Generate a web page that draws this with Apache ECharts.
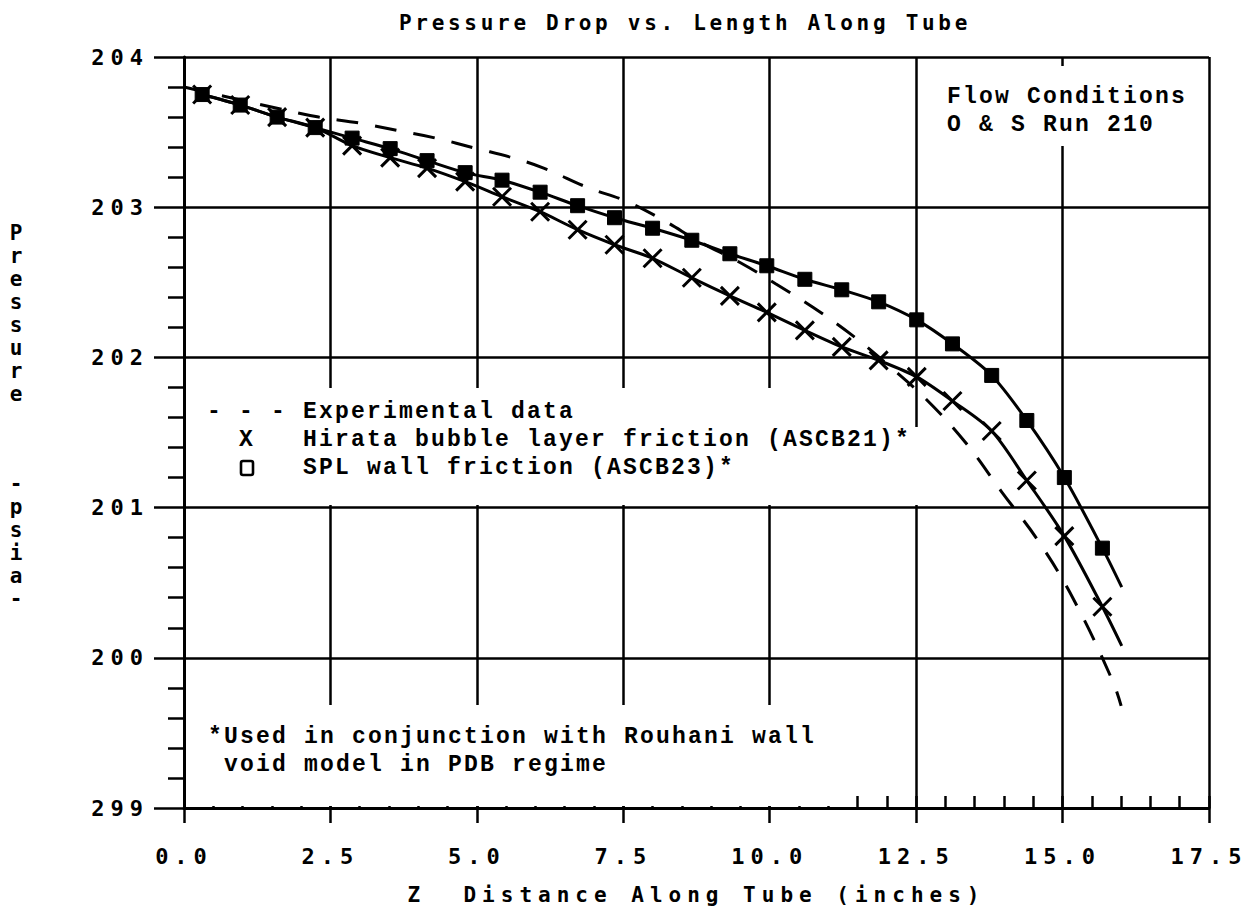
<!DOCTYPE html>
<html><head><meta charset="utf-8">
<script src="https://cdn.jsdelivr.net/npm/echarts@6/dist/echarts.min.js"></script>
<style>html,body{margin:0;padding:0;background:#fff}#c{width:1250px;height:917px}</style>
</head><body><div id="c"></div>
<script>
// ---- data ----
const xTickLabels = ['0.0','2.5','5.0','7.5','10.0','12.5','15.0','17.5'];
const yTickLabels = ['299','200','201','202','203','204'];
const modelZ = [0.31,0.96,1.59,2.24,2.87,3.52,4.15,4.80,5.43,6.08,6.72,7.35,8.00,8.67,9.32,9.95,10.60,11.23,11.86,12.51,13.12,13.79,14.39,15.03,15.68,16.01];
const splPressure = [203.75,203.68,203.60,203.53,203.46,203.39,203.31,203.23,203.18,203.10,203.01,202.93,202.86,202.78,202.69,202.61,202.52,202.45,202.37,202.25,202.09,201.88,201.58,201.20,200.73,200.47];
const hirataPressure = [203.75,203.68,203.60,203.53,203.41,203.33,203.26,203.17,203.07,202.97,202.85,202.75,202.66,202.53,202.41,202.30,202.18,202.07,201.98,201.87,201.71,201.51,201.18,200.81,200.34,200.08];
const expZ = [0,1.69,2.3,3.0,3.65,4.3,5.0,5.6,6.14,6.9,7.55,8.2,8.8,9.5,10.1,10.75,11.4,12.05,12.7,13.35,13.95,14.6,15.2,15.85,16.0];
const expPressure = [203.80,203.65,203.60,203.56,203.51,203.46,203.39,203.33,203.26,203.13,203.04,202.91,202.77,202.63,202.49,202.33,202.15,201.94,201.71,201.43,201.11,200.77,200.38,199.85,199.68];

const TITLE = 'Pressure Drop vs. Length Along Tube';
const XNAME = 'Z  Distance Along Tube (inches)';
const YNAME_TOP = ['P','r','e','s','s','u','r','e'];
const YNAME_BOT = ['-','p','s','i','a','-'];
const legendLines = ['- - - Experimental data','  X   Hirata bubble layer friction (ASCB21)*','      SPL wall friction (ASCB23)*'];
const noteLines = ['*Used in conjunction with Rouhani wall',' void model in PDB regime'];
const flowLines = ['Flow Conditions','O & S Run 210'];

// ---- build ----
function pairs(xs, ys, endNoSymbol){
  return xs.map((x,i)=> (endNoSymbol && i===xs.length-1) ? {value:[x,ys[i]], symbol:'none'} : [x, ys[i]]);
}
const MONO = "'Liberation Mono', 'DejaVu Sans Mono', monospace";
const SMONO = "'DejaVu Sans Mono', monospace";
const chart = echarts.init(document.getElementById('c'), null, {renderer:'svg'});
const black = '#000';
const graphics = [];
// masks hiding grid lines behind text blocks (below series)
[[186,388,714,117],[900,427,25,78],[186,705,644,101],[940,66,266,80]].forEach(r=>{
  graphics.push({type:'rect', z:1, silent:true, shape:{x:r[0],y:r[1],width:r[2],height:r[3]}, style:{fill:'#fff'}});
});
legendLines.forEach((t,i)=>graphics.push({type:'text', z:5, style:{text:t, x:207, y:412+i*28, font:'bold 23px '+MONO, fill:black, verticalAlign:'middle'}}));
// legend box symbol
graphics.push({type:'rect', z:5, shape:{x:241, y:461, width:12, height:14, r:2}, style:{fill:'none', stroke:black, lineWidth:2.6}});
noteLines.forEach((t,i)=>graphics.push({type:'text', z:5, style:{text:t, x:208, y:737+i*28, font:'bold 23px '+MONO, fill:black, verticalAlign:'middle'}}));
flowLines.forEach((t,i)=>graphics.push({type:'text', z:5, style:{text:t, x:947, y:97+i*28, font:'bold 23px '+MONO, fill:black, verticalAlign:'middle'}}));
graphics.push({type:'text', z:5, style:{text:YNAME_TOP.join('\n'), x:16, y:221, font:'bold 21px '+SMONO, lineHeight:23, fill:black, align:'center', verticalAlign:'top'}});
graphics.push({type:'text', z:5, style:{text:YNAME_BOT.join('\n'), x:16, y:472, font:'bold 21px '+SMONO, lineHeight:23, fill:black, align:'center', verticalAlign:'top'}});

const option = {
  animation:false,
  backgroundColor:'#fff',
  title:{text:TITLE, left:680, top:7, textAlign:'center', textStyle:{fontFamily:SMONO, fontWeight:'bold', fontSize:21, color:black}},
  grid:{left:184, right:41, top:57, bottom:109, containLabel:false},
  xAxis:[{
    type:'value', min:0, max:17.5, interval:2.5, position:'bottom',
    name:XNAME, nameLocation:'middle', nameGap:76,
    nameTextStyle:{fontFamily:SMONO, fontWeight:'bold', fontSize:21, color:black},
    axisLine:{show:true, lineStyle:{color:black, width:3}},
    axisTick:{show:true, inside:false, length:15, lineStyle:{color:black, width:2.5}},
    axisLabel:{formatter:v=>xTickLabels[Math.round(v/2.5)], margin:37, fontFamily:SMONO, fontWeight:'bold', fontSize:22, color:black},
    splitLine:{show:true, lineStyle:{color:black, width:2.5}}
  },{
    type:'value', min:0, max:17.5, interval:0.5, position:'bottom',
    axisLine:{show:false}, axisLabel:{show:false}, splitLine:{show:false},
    axisTick:{show:true, inside:true, length:12, lineStyle:{color:black, width:2.5}}
  }],
  yAxis:{
    type:'value', min:199, max:204, interval:1,
    axisLine:{show:true, lineStyle:{color:black, width:3}},
    axisTick:{show:true, inside:false, length:30, lineStyle:{color:black, width:2.5}},
    minorTick:{show:true, splitNumber:5, length:16, lineStyle:{color:black, width:2.5}},
    axisLabel:{formatter:v=>yTickLabels[Math.round(v-199)], margin:35, fontFamily:SMONO, fontWeight:'bold', fontSize:22, color:black},
    splitLine:{show:true, lineStyle:{color:black, width:2.5}}
  },
  series:[{
    name:'Experimental data', type:'line', data:pairs(expZ, expPressure, false), showSymbol:false, smooth:0.4, z:3,
    lineStyle:{color:black, width:3, type:[22,17]}
  },{
    name:'Hirata bubble layer friction (ASCB21)*', type:'line', data:pairs(modelZ, hirataPressure, true), smooth:0.3, z:3,
    symbol:'path://M0,0L10,10M10,0L0,10', symbolSize:18,
    itemStyle:{color:black, borderColor:black, borderWidth:3},
    lineStyle:{color:black, width:3}
  },{
    name:'SPL wall friction (ASCB23)*', type:'line', data:pairs(modelZ, splPressure, true), smooth:0.3, z:4,
    symbol:'rect', symbolSize:14,
    itemStyle:{color:black, borderColor:black, borderWidth:1},
    lineStyle:{color:black, width:3}
  }],
  graphic:graphics
};
chart.setOption(option);

const monoTexts = legendLines.concat(noteLines, flowLines);
function applySpacing(){
  document.querySelectorAll('#c svg text').forEach(t=>{
    t.style.whiteSpace = 'pre';
    const s = t.textContent;
    let ls = 0;
    if (s === TITLE) ls = 3.7;
    else if (s === XNAME) ls = 6;
    else if (xTickLabels.includes(s) || yTickLabels.includes(s)) ls = 6;
    else if (monoTexts.includes(s)) ls = 2.2;
    if (ls) t.setAttribute('letter-spacing', ls);
  });
}
chart.on('finished', applySpacing);
setTimeout(applySpacing, 50);
applySpacing();
</script></body></html>
